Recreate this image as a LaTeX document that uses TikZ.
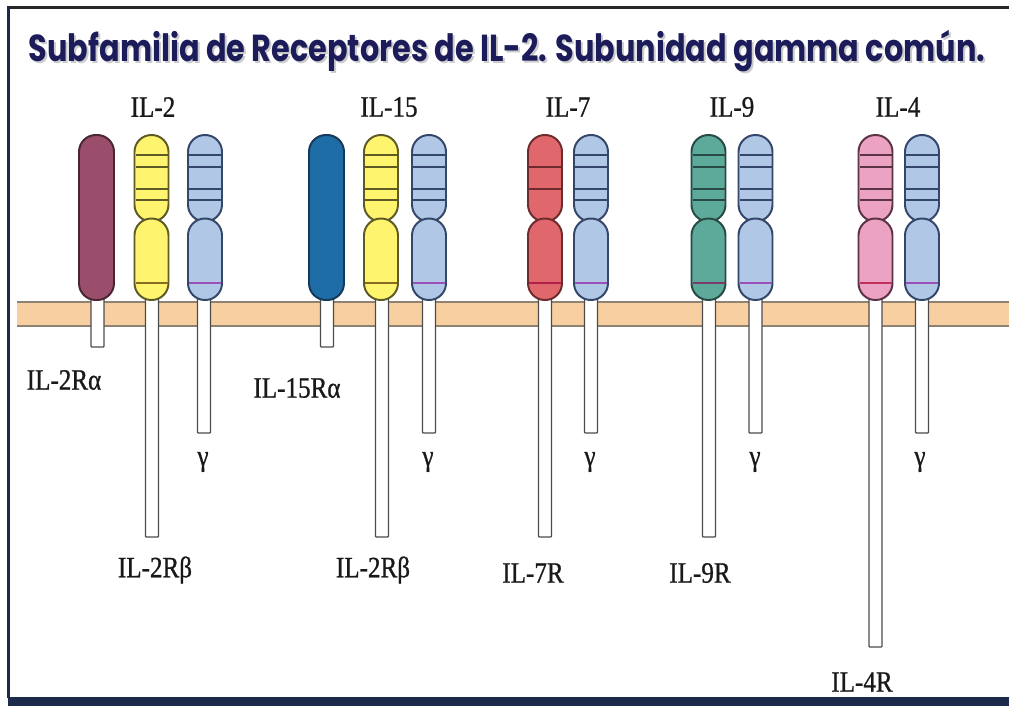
\documentclass[tikz,border=0pt]{standalone}
\usepackage{fontspec}
\usepackage{graphicx}
\setmainfont{Liberation Serif}[FakeStretch=0.85, FakeBold=0.8]
\newfontfamily\fuentetitulo{Poppins}

% colores
\definecolor{membrana}{HTML}{F8CFA0}
\definecolor{bordemem}{HTML}{8E8272}
\definecolor{marco}{HTML}{1B2A4A}
\definecolor{azultitulo}{HTML}{1C1C5A}
\definecolor{malva}{HTML}{9A4E6C}    \definecolor{malvaB}{HTML}{4A2634}
\definecolor{amarillo}{HTML}{FFF46E} \definecolor{amarilloB}{HTML}{5E5A26} \definecolor{amarilloL}{HTML}{8A6A20}
\definecolor{celeste}{HTML}{B0C7E6}  \definecolor{celesteB}{HTML}{34466A}  \definecolor{celesteL}{HTML}{9B4FB8}
\definecolor{azul}{HTML}{1E6DA6}     \definecolor{azulB}{HTML}{15395A}
\definecolor{rojo}{HTML}{E0686C}     \definecolor{rojoB}{HTML}{6E2B2E}     \definecolor{rojoL}{HTML}{B0204A}
\definecolor{verde}{HTML}{5DAA9B}    \definecolor{verdeB}{HTML}{284A44}    \definecolor{verdeL}{HTML}{7A3A6A}
\definecolor{rosa}{HTML}{ECA2C2}     \definecolor{rosaB}{HTML}{5C3345}     \definecolor{rosaL}{HTML}{C0305A}

% cadena de dos lobulos: #1 centro x, #2 relleno, #3 borde, #4 banda de abajo, #5 bandas de arriba
\newcommand\cadena[5]{%
  \filldraw[lobulo, fill=#2, draw=#3] (#1-17,135) rectangle (#1+17,221.5);
  \filldraw[lobulo, fill=#2, draw=#3] (#1-17,218.5) rectangle (#1+17,300);
  \foreach \yb in {#5} \draw[banda, #3] (#1-16,\yb) -- (#1+16,\yb);
  \draw[banda, #4] (#1-16,283) -- (#1+16,283);
}
% tallo blanco que cruza la membrana: #1 centro x, #2 final
\newcommand\tallo[2]{%
  \draw[tallo] (#1-6.5,296) rectangle (#1+6.5,#2);
}

\begin{document}
\begin{tikzpicture}[x=0.025cm, y=-0.025cm,
  lobulo/.style={line width=1.4pt, rounded corners=0.42cm},
  banda/.style={line width=1.5pt},
  tallo/.style={fill=white, draw=black!70, line width=0.9pt, rounded corners=0.5pt},
  etiqueta/.style={font=\fontsize{21}{24}\selectfont, inner sep=0pt, text=black!90}]
  \useasboundingbox (0,0) rectangle (1009,706);

  % Marco
  \fill[black!85] (7,6) rectangle (1009,9);
  \fill[marco] (7,6) rectangle (10,698);
  \fill[marco] (8,697) rectangle (1009,706);

  % Titulo con sombra
  \node[text=gray!40] (sombra) at (509,53)
    {\resizebox{23.9cm}{0.78cm}{\fuentetitulo\bfseries Subfamilia de Receptores de IL-2. Subunidad gamma común.}};
  \node[text=azultitulo] (titulo) at (507,51)
    {\resizebox{23.9cm}{0.78cm}{\fuentetitulo\bfseries Subfamilia de Receptores de IL-2. Subunidad gamma común.}};

  % Membrana
  \fill[membrana] (17,302) rectangle (1009,326);
  \draw[bordemem, line width=0.8pt] (17,302) -- (1009,302);
  \draw[bordemem, line width=0.8pt] (17,326) -- (1009,326);

  % Tallos
  \tallo{97.5}{347}
  \tallo{152}{537}
  \tallo{204}{433}
  \tallo{327}{347}
  \tallo{382}{537}
  \tallo{429}{433}
  \tallo{545}{537}
  \tallo{591}{433}
  \tallo{709}{537}
  \tallo{755.5}{433}
  \tallo{875.5}{647}
  \tallo{922}{433}

  % Cadenas alfa
  \filldraw[lobulo, fill=malva, draw=malvaB] (79,135) rectangle (114,300);
  \filldraw[lobulo, fill=azul, draw=azulB] (309,135) rectangle (344,300);

  % Cadenas beta y gamma
  \cadena{151.5}{amarillo}{amarilloB}{amarilloL}{155,167,189,200}
  \cadena{205}{celeste}{celesteB}{celesteL}{155,167,189,200}
  \cadena{381}{amarillo}{amarilloB}{amarilloL}{155,167,189,200}
  \cadena{429}{celeste}{celesteB}{celesteL}{155,167,189,200}
  \cadena{545}{rojo}{rojoB}{rojoL}{167,189}
  \cadena{591}{celeste}{celesteB}{celesteL}{155,167,189,200}
  \cadena{708.5}{verde}{verdeB}{verdeL}{155,167,189,200}
  \cadena{755.5}{celeste}{celesteB}{celesteL}{155,167,189,200}
  \cadena{875.5}{rosa}{rosaB}{rosaL}{155,167,189,200}
  \cadena{922}{celeste}{celesteB}{celesteL}{155,167,189,200}

  % Citoquinas
  \node[etiqueta] (il2) at (153,107) {IL-2};
  \node[etiqueta] (il15) at (389,107) {IL-15};
  \node[etiqueta] (il7) at (568,107) {IL-7};
  \node[etiqueta] (il9) at (732,107) {IL-9};
  \node[etiqueta] (il4) at (898,107) {IL-4};

  % Nombres de las cadenas
  \node[etiqueta] (il2ra) at (64,380) {IL-2Rα};
  \node[etiqueta] (il15ra) at (297,388) {IL-15Rα};
  \node[etiqueta] (g2) at (203,462) {γ};
  \node[etiqueta] (g15) at (428,462) {γ};
  \node[etiqueta] (g7) at (590,462) {γ};
  \node[etiqueta] (g9) at (755,462) {γ};
  \node[etiqueta] (g4) at (920,462) {γ};
  \node[etiqueta] (il2rb) at (155,570) {IL-2Rβ};
  \node[etiqueta] (il2rb15) at (373,570) {IL-2Rβ};
  \node[etiqueta] (il7r) at (533,573) {IL-7R};
  \node[etiqueta] (il9r) at (700,573) {IL-9R};
  \node[etiqueta] (il4r) at (862,682) {IL-4R};
\end{tikzpicture}
\end{document}
